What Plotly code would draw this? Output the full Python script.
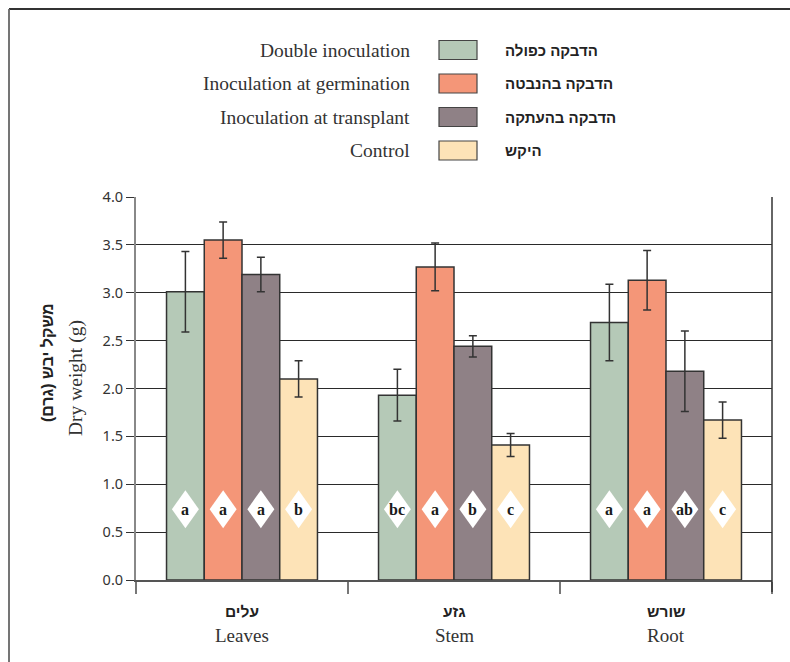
import plotly.graph_objects as go

# ---- data ----
organs_he = ["עלים", "גזע", "שורש"]
organs_en = ["Leaves", "Stem", "Root"]

series_en = ["Double inoculation", "Inoculation at germination",
             "Inoculation at transplant", "Control"]
series_he = ["הדבקה כפולה", "הדבקה בהנבטה", "הדבקה בהעתקה", "היקש"]
colors = ["#b5c9b7", "#f49678", "#8f8186", "#fde3b7"]

double_inoc = [3.01, 1.93, 2.69]
germination = [3.55, 3.27, 3.13]
transplant = [3.19, 2.44, 2.18]
control = [2.10, 1.41, 1.67]

double_err = [0.42, 0.27, 0.40]
germination_err = [0.19, 0.25, 0.31]
transplant_err = [0.18, 0.11, 0.42]
control_err = [0.19, 0.12, 0.19]

double_sig = ["a", "bc", "a"]
germination_sig = ["a", "a", "a"]
transplant_sig = ["a", "b", "ab"]
control_sig = ["b", "c", "c"]

y_ticks = [0.0, 0.5, 1.0, 1.5, 2.0, 2.5, 3.0, 3.5, 4.0]

values = [double_inoc, germination, transplant, control]
errors = [double_err, germination_err, transplant_err, control_err]
letters = [double_sig, germination_sig, transplant_sig, control_sig]

# ---- geometry of the figure (pixels) ----
W, H = 790, 662
L, R, T, B = 136, 18, 197, 82
PW, PH = W - L - R, H - T - B
BARGAP = 0.288
SIG_Y = 0.74


def px(x):
    return (x - L) / PW


def py(y):
    return (H - B - y) / PH


SERIF = "Liberation Serif"
SANS = "Noto Sans"
HEB = "Liberation Sans"

fig = go.Figure()
xpos = list(range(len(organs_en)))
for k in range(4):
    fig.add_trace(go.Bar(
        x=xpos, y=values[k], name=series_en[k],
        marker=dict(color=colors[k], line=dict(color="#333333", width=1.5)),
        error_y=dict(type="data", array=errors[k], color="#333333",
                     thickness=1.5, width=4),
        showlegend=False, hoverinfo="skip",
    ))

shapes = []
annotations = []

# significance letters in white diamonds, centred on each bar
bw = (1 - BARGAP) / 4
for k in range(4):
    for i in xpos:
        xc = i + (k - 1.5) * bw
        shapes.append(dict(
            type="path", xref="x", yref="y",
            xsizemode="pixel", ysizemode="pixel",
            xanchor=xc, yanchor=SIG_Y,
            path="M0,19 L13.5,0 L0,-19 L-13.5,0 Z",
            fillcolor="white", line=dict(width=0), layer="above",
        ))
        annotations.append(dict(
            x=xc, y=SIG_Y, xref="x", yref="y", text="<b>%s</b>" % letters[k][i],
            showarrow=False, font=dict(family=SERIF, size=16, color="#1a1a1a"),
            xanchor="center", yanchor="middle",
        ))

# category labels (Hebrew above English)
for i in xpos:
    annotations.append(dict(
        x=i, y=py(611), xref="x", yref="paper", text="<b>%s</b>" % organs_he[i],
        showarrow=False, font=dict(family=HEB, size=15.5, color="#222222"),
        xanchor="center", yanchor="middle",
    ))
    annotations.append(dict(
        x=i, y=py(635), xref="x", yref="paper", text=organs_en[i],
        showarrow=False, font=dict(family=SERIF, size=19, color="#333333"),
        xanchor="center", yanchor="middle",
    ))

# y-axis title, two lines
annotations.append(dict(
    x=px(47), y=py(363), xref="paper", yref="paper", text="<b>משקל יבש (גרם)</b>",
    textangle=-90, showarrow=False, font=dict(family=HEB, size=16, color="#222222"),
    xanchor="center", yanchor="middle",
))
annotations.append(dict(
    x=px(76), y=py(378), xref="paper", yref="paper", text="Dry weight (g)",
    textangle=-90, showarrow=False, font=dict(family=SERIF, size=19.5, color="#333333"),
    xanchor="center", yanchor="middle",
))

# legend: English | swatch | Hebrew
row_y = [50, 83.5, 117, 150.5]
for k in range(4):
    yc = row_y[k]
    annotations.append(dict(
        x=px(412), y=py(yc), xref="paper", yref="paper", text=series_en[k],
        showarrow=False, font=dict(family=SERIF, size=19.5, color="#333333"),
        xanchor="right", yanchor="middle",
    ))
    shapes.append(dict(
        type="rect", xref="paper", yref="paper",
        x0=px(439), x1=px(477), y0=py(yc - 9.5), y1=py(yc + 9.5),
        fillcolor=colors[k], line=dict(color="#444444", width=1.2),
    ))
    annotations.append(dict(
        x=px(503), y=py(yc), xref="paper", yref="paper", text="<b>%s</b>" % series_he[k],
        showarrow=False, font=dict(family=HEB, size=15, color="#222222"),
        xanchor="left", yanchor="middle",
    ))

# right border of the plot area, extended down like a tick
shapes.append(dict(type="line", xref="paper", yref="paper",
                   x0=1, x1=1, y0=py(592), y1=1,
                   line=dict(color="#333333", width=1.5)))
# outer frame (top and left edges)
shapes.append(dict(type="line", xref="paper", yref="paper",
                   x0=px(9), x1=px(792), y0=py(9), y1=py(9),
                   line=dict(color="#333333", width=1.8)))
shapes.append(dict(type="line", xref="paper", yref="paper",
                   x0=px(9), x1=px(9), y0=py(9), y1=py(664),
                   line=dict(color="#666666", width=1.8)))

fig.update_layout(
    width=W, height=H,
    margin=dict(l=L, r=R, t=T, b=B, pad=0),
    paper_bgcolor="white", plot_bgcolor="white",
    barmode="group", bargap=BARGAP, bargroupgap=0,
    shapes=shapes, annotations=annotations,
    showlegend=False,
    xaxis=dict(
        range=[-0.5, 2.5], tickmode="array",
        tickvals=[-0.5, 0.5, 1.5, 2.5], ticktext=["", "", "", ""],
        ticks="outside", ticklen=12, tickwidth=1.5, tickcolor="#777777",
        showgrid=False, zeroline=False,
        showline=True, linecolor="#555555", linewidth=1.5,
    ),
    yaxis=dict(
        range=[0, 4], tickmode="array", tickvals=y_ticks,
        ticktext=["%.1f" % v for v in y_ticks],
        ticks="outside", ticklen=8, tickwidth=1.2, tickcolor="#333333",
        tickfont=dict(family=SANS, size=14.5, color="#333333"),
        showgrid=True, gridcolor="#2a2a2a", gridwidth=1.2,
        zeroline=False,
        showline=True, linecolor="#888888", linewidth=2,
    ),
)

fig.write_html("out.html")
